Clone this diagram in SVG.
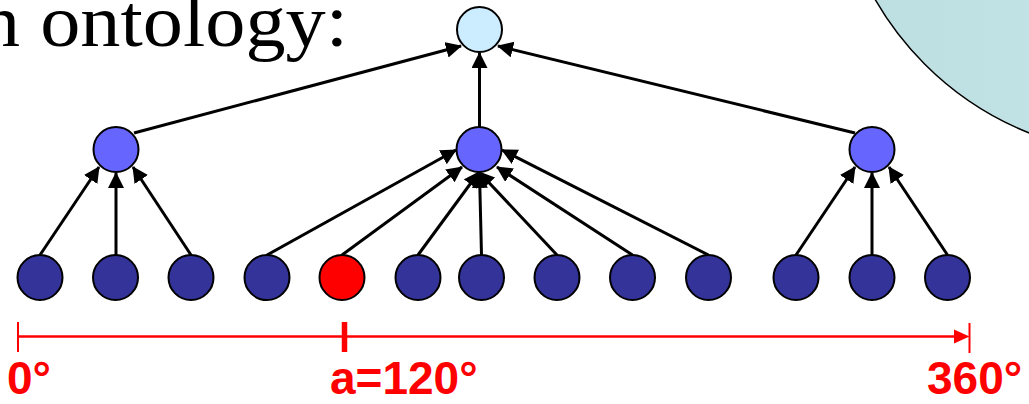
<svg xmlns="http://www.w3.org/2000/svg" width="1029" height="404" viewBox="0 0 1029 404">
  <defs>
    <linearGradient id="bg" x1="0" y1="0" x2="1" y2="0">
      <stop offset="0" stop-color="#BCDFE2"/>
      <stop offset="1" stop-color="#CDE8EA"/>
    </linearGradient>
    <marker id="ah" markerUnits="userSpaceOnUse" markerWidth="18" markerHeight="18" refX="15" refY="8" orient="auto">
      <path d="M0,0 L16,8 L0,16 z" fill="#000"/>
    </marker>
  </defs>
  <style>
    .edge { stroke: #000; stroke-width: 3; fill: none; marker-end: url(#ah); }
    .node { stroke: #000; stroke-width: 2; }
    .root { fill: #CCECFF; }
    .mid { fill: #6666FF; }
    .leaf { fill: #333399; }
    .hot { fill: #FF0000; }
    .axis { stroke: #FF0000; fill: none; }
    .lbl { font-family: "Liberation Sans", Arial, sans-serif; font-weight: bold; font-size: 46px; fill: #FF0000; }
    .title { font-family: "Liberation Serif", "Times New Roman", serif; font-size: 75px; fill: #000; }
  </style>

  <circle cx="1144" cy="-155" r="310" fill="url(#bg)" stroke="#000" stroke-width="1.5"/>

  <text class="title" x="-20" y="46" textLength="368" lengthAdjust="spacingAndGlyphs">n ontology:</text>

  <g id="connectors">
    <line class="edge" x1="40" y1="255" x2="99" y2="167"/>
    <line class="edge" x1="116" y1="255" x2="116" y2="173"/>
    <line class="edge" x1="191" y1="255" x2="133" y2="167"/>
    <line class="edge" x1="267" y1="255" x2="456" y2="150"/>
    <line class="edge" x1="342" y1="255" x2="462" y2="167"/>
    <line class="edge" x1="418" y1="255" x2="479" y2="172"/>
    <line class="edge" x1="481.5" y1="255" x2="479.5" y2="173"/>
    <line class="edge" x1="557" y1="255" x2="479" y2="172"/>
    <line class="edge" x1="632.5" y1="255" x2="497" y2="167"/>
    <line class="edge" x1="708.5" y1="255" x2="502" y2="150"/>
    <line class="edge" x1="796" y1="255" x2="855" y2="167"/>
    <line class="edge" x1="872" y1="255" x2="872" y2="173"/>
    <line class="edge" x1="947.5" y1="255" x2="889" y2="167"/>
    <line class="edge" x1="134" y1="133" x2="461" y2="46"/>
    <line class="edge" x1="479.5" y1="127" x2="479.5" y2="53"/>
    <line class="edge" x1="855" y1="133" x2="498" y2="46"/>
  </g>

  <g id="root"><circle class="node root" cx="479.5" cy="29.5" r="22.5"/></g>
  <g id="mid-left"><circle class="node mid" cx="116" cy="149.5" r="22.5"/></g>
  <g id="mid-center"><circle class="node mid" cx="479" cy="149.5" r="22.5"/></g>
  <g id="mid-right"><circle class="node mid" cx="872" cy="149.5" r="22.5"/></g>

  <g id="leaf1"><circle class="node leaf" cx="40" cy="277.5" r="22.5"/></g>
  <g id="leaf2"><circle class="node leaf" cx="115.5" cy="277.5" r="22.5"/></g>
  <g id="leaf3"><circle class="node leaf" cx="191" cy="277.5" r="22.5"/></g>
  <g id="leaf4"><circle class="node leaf" cx="267" cy="277.5" r="22.5"/></g>
  <g id="leaf5"><circle class="node hot" cx="342" cy="277.5" r="22.5"/></g>
  <g id="leaf6"><circle class="node leaf" cx="418" cy="277.5" r="22.5"/></g>
  <g id="leaf7"><circle class="node leaf" cx="481.5" cy="277.5" r="22.5"/></g>
  <g id="leaf8"><circle class="node leaf" cx="557" cy="277.5" r="22.5"/></g>
  <g id="leaf9"><circle class="node leaf" cx="632.5" cy="277.5" r="22.5"/></g>
  <g id="leaf10"><circle class="node leaf" cx="708.5" cy="277.5" r="22.5"/></g>
  <g id="leaf11"><circle class="node leaf" cx="796" cy="277.5" r="22.5"/></g>
  <g id="leaf12"><circle class="node leaf" cx="872" cy="277.5" r="22.5"/></g>
  <g id="leaf13"><circle class="node leaf" cx="947.5" cy="277.5" r="22.5"/></g>

  <g id="axis">
    <line class="axis" x1="18" y1="336.5" x2="956" y2="336.5" stroke-width="2.5"/>
    <polygon points="954,329.5 969.5,336.5 954,343.5" fill="#FF0000"/>
    <line class="axis" x1="18" y1="322" x2="18" y2="352" stroke-width="2"/>
    <line class="axis" x1="344.5" y1="322" x2="344.5" y2="352" stroke-width="5.5"/>
    <line class="axis" x1="969.5" y1="323" x2="969.5" y2="353" stroke-width="2"/>
    <text class="lbl" x="7" y="394">0°</text>
    <text class="lbl" x="330" y="394">a=120°</text>
    <text class="lbl" x="927" y="394">360°</text>
  </g>
</svg>
